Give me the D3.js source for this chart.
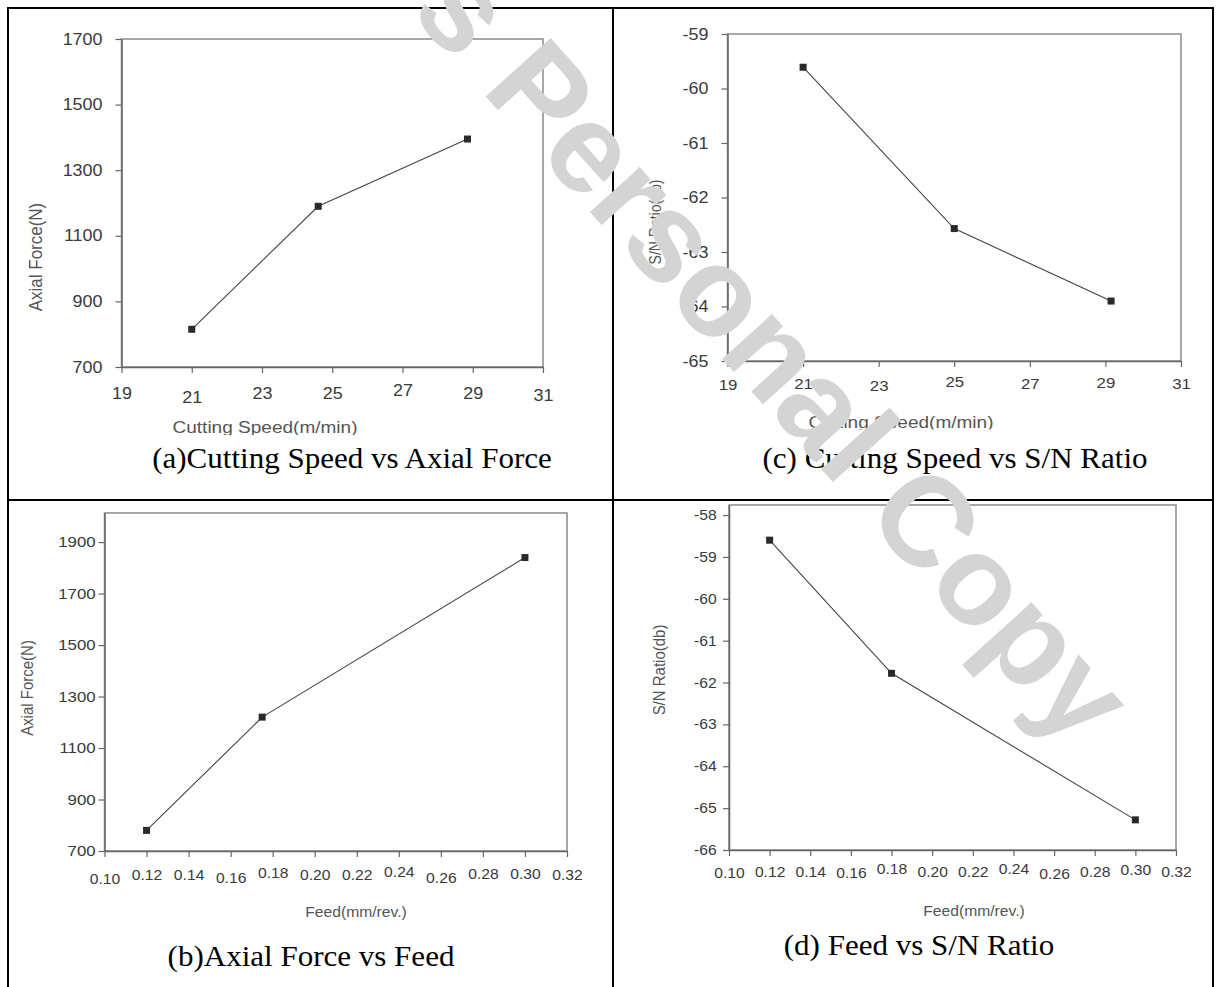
<!DOCTYPE html>
<html>
<head>
<meta charset="utf-8">
<script src="https://cdn.jsdelivr.net/npm/d3@7"></script>
<style>
  body { margin: 0; background: #fff; }
  svg { display: block; }
</style>
</head>
<body>
<svg width="1218" height="987"></svg>
<script>
// values
var speedA = [21, 24.6, 28.85];
var forceA = [815, 1190, 1395];
var speedC = [21, 25, 29.15];
var snC = [-59.61, -62.57, -63.9];
var feedB = [0.12, 0.175, 0.30];
var forceB = [780, 1220, 1840];
var feedD = [0.12, 0.18, 0.30];
var snD = [-58.6, -61.78, -65.28];

var speedTicks = [19, 21, 23, 25, 27, 29, 31];
var feedTicks = [0.10, 0.12, 0.14, 0.16, 0.18, 0.20, 0.22, 0.24, 0.26, 0.28, 0.30, 0.32];
var forceTicksA = [700, 900, 1100, 1300, 1500, 1700];
var forceTicksB = [700, 900, 1100, 1300, 1500, 1700, 1900];
var snTicksC = [-65, -64, -63, -62, -61, -60, -59];
var snTicksD = [-66, -65, -64, -63, -62, -61, -60, -59, -58];

var captions = ["(a)Cutting Speed vs Axial Force", "(c) Cutting Speed vs S/N Ratio",
                "(b)Axial Force vs Feed", "(d) Feed vs S/N Ratio"];
var xTitles = ["Cutting Speed(m/min)", "Cutting Speed(m/min)", "Feed(mm/rev.)", "Feed(mm/rev.)"];
var yTitles = ["Axial Force(N)", "S/N Ratio(db)", "Axial Force(N)", "S/N Ratio(db)"];

var svg = d3.select("svg");
var SX = 1.12; // the scan is stretched sideways a bit

function stretchText(g, x, y, str, o) {
  var t = "translate(" + x + "," + y + ") scale(" + (o.sx || 1) + ",1)" + (o.rot ? " rotate(" + o.rot + ")" : "");
  return g.append("text")
    .attr("transform", t)
    .attr("text-anchor", o.anchor || "middle")
    .attr("dy", o.dy || 0)
    .style("font-family", o.family || "'Liberation Sans', Arial, sans-serif")
    .style("font-size", o.size + "px")
    .style("fill", o.fill || "#555")
    .text(str);
}

// layout of each panel (positions in px)
var panels = [
  { xs: speedA, ys: forceA, xt: speedTicks, yt: forceTicksA, xd: [19, 31], yd: [700, 1700],
    l: 121.5, r: 543, t: 39, b: 367, fs: 16, yfs: 16, ylab: -17, xlab: 26, nudge: [0, 4, 0.5, 0, -3, 0.5, 2], fmt: d3.format("d"),
    cap: 0, capX: 352, capY: 468, xtX: 265, xtY: 433, xtSize: 17, clip: 435,
    ytX: 35, ytY: 257, ytSize: 17 },
  { xs: speedC, ys: snC, xt: speedTicks, yt: snTicksC, xd: [19, 31], yd: [-65, -59],
    l: 727.5, r: 1181, t: 34, b: 361, fs: 15, yfs: 16, ylab: -17, xlab: 23, nudge: [1, 0, 2, -2, 0, -1, 0], fmt: d3.format("d"),
    cap: 1, capX: 955, capY: 468, xtX: 901, xtY: 428, xtSize: 17, clip: 429.5,
    ytX: 656, ytY: 222, ytSize: 14 },
  { xs: feedB, ys: forceB, xt: feedTicks, yt: forceTicksB, xd: [0.10, 0.32], yd: [700, 2013],
    l: 104.5, r: 567, t: 513, b: 851, fs: 14, yfs: 15, ylab: -8, xlab: 24, nudge: [4, 0, 0, 3.5, -2, 0, 0, -3, 3.5, -1, -1, 0.5], fmt: d3.format(".2f"),
    cap: 2, capX: 311, capY: 966, xtX: 356, xtY: 917, xtSize: 14, clip: null,
    ytX: 27, ytY: 688, ytSize: 15 },
  { xs: feedD, ys: snD, xt: feedTicks, yt: snTicksD, xd: [0.10, 0.32], yd: [-66, -57.76],
    l: 729, r: 1176, t: 505, b: 850, fs: 14, yfs: 14, ylab: -11, xlab: 22, nudge: [1.6, 0, 0, 1.6, -2.4, 0, 0, -2.4, 2.3, 0, -1.7, 0], fmt: d3.format(".2f"),
    cap: 3, capX: 919, capY: 955, xtX: 974, xtY: 916, xtSize: 14, clip: null,
    ytX: 659, ytY: 670, ytSize: 15 }
];

panels.forEach(function(p, k) {
  var g = svg.append("g");
  var x = d3.scaleLinear().domain(p.xd).range([p.l, p.r]);
  var y = d3.scaleLinear().domain(p.yd).range([p.b, p.t]);

  // frame (top and right)
  g.append("rect")
    .attr("x", p.l).attr("y", p.t)
    .attr("width", p.r - p.l).attr("height", p.b - p.t)
    .style("fill", "none").style("stroke", "#8a8a8a").style("stroke-width", 1.5);

  var xa = g.append("g").attr("transform", "translate(0," + p.b + ")")
    .call(d3.axisBottom(x).tickValues(p.xt).tickFormat(p.fmt).tickSize(6).tickSizeOuter(0));
  xa.selectAll("text")
    .attr("y", function(d, i) { return p.xlab + p.nudge[i]; })
    .attr("dy", "0.35em")
    .attr("transform", "scale(" + SX + ",1)")
    .style("font-size", p.fs + "px");

  var ya = g.append("g").attr("transform", "translate(" + p.l + ",0)")
    .call(d3.axisLeft(y).tickValues(p.yt).tickFormat(function(d) { return String(d); }).tickSize(6).tickSizeOuter(0));
  ya.selectAll("text").attr("x", p.ylab).attr("transform", "scale(" + SX + ",1)")
    .style("font-size", p.yfs + "px");

  [xa, ya].forEach(function(a) {
    a.select(".domain").style("stroke", "#666").style("stroke-width", 1.5);
    a.selectAll(".tick line").style("stroke", "#666").style("stroke-width", 1.2);
    a.selectAll("text")
      .style("font-family", "'Liberation Sans', Arial, sans-serif")
      .style("fill", "#3a3a3a");
  });

  var pts = p.xs.map(function(v, i) { return [v, p.ys[i]]; });
  g.append("path")
    .datum(pts)
    .attr("d", d3.line().x(function(d) { return x(d[0]); }).y(function(d) { return y(d[1]); }))
    .style("fill", "none").style("stroke", "#444").style("stroke-width", 1.1);

  g.selectAll("rect.mk").data(pts).enter().append("rect")
    .attr("class", "mk")
    .attr("x", function(d) { return x(d[0]) - 3.5; })
    .attr("y", function(d) { return y(d[1]) - 3.5; })
    .attr("width", 7).attr("height", 7)
    .style("fill", "#2a2a2a");

  // axis titles (the scan cuts the descenders of the speed titles)
  var tg = g.append("g");
  if (p.clip) {
    svg.append("clipPath").attr("id", "clip" + k)
      .append("rect").attr("x", 0).attr("y", 0).attr("width", 1218).attr("height", p.clip);
    tg.attr("clip-path", "url(#clip" + k + ")");
  }
  stretchText(tg, p.xtX, p.xtY, xTitles[k], { sx: SX, size: p.xtSize });
  stretchText(g, p.ytX, p.ytY, yTitles[k], { sx: SX, size: p.ytSize, rot: -90, dy: "0.35em" });

  // caption under each chart
  stretchText(g, p.capX, p.capY, captions[p.cap], {
    sx: 1.07, size: 29, fill: "#000", family: "'Liberation Serif', 'Times New Roman', serif" });
});

// table grid
var grid = svg.append("g").style("stroke", "#000").style("stroke-width", 2).style("fill", "none");
grid.append("rect").attr("x", 8).attr("y", 8).attr("width", 1205).attr("height", 990);
grid.append("line").attr("x1", 613).attr("x2", 613).attr("y1", 8).attr("y2", 990);
grid.append("line").attr("x1", 8).attr("x2", 1213).attr("y1", 500).attr("y2", 500);

// watermark on top
svg.append("text")
  .attr("transform", "translate(1075,751) rotate(48)")
  .attr("text-anchor", "end")
  .style("font-family", "'Liberation Sans', Arial, sans-serif")
  .style("font-weight", "bold")
  .style("font-size", "127px")
  .style("fill", "#d4d4d4")
  .text("Author's Personal Copy");
</script>
</body>
</html>
